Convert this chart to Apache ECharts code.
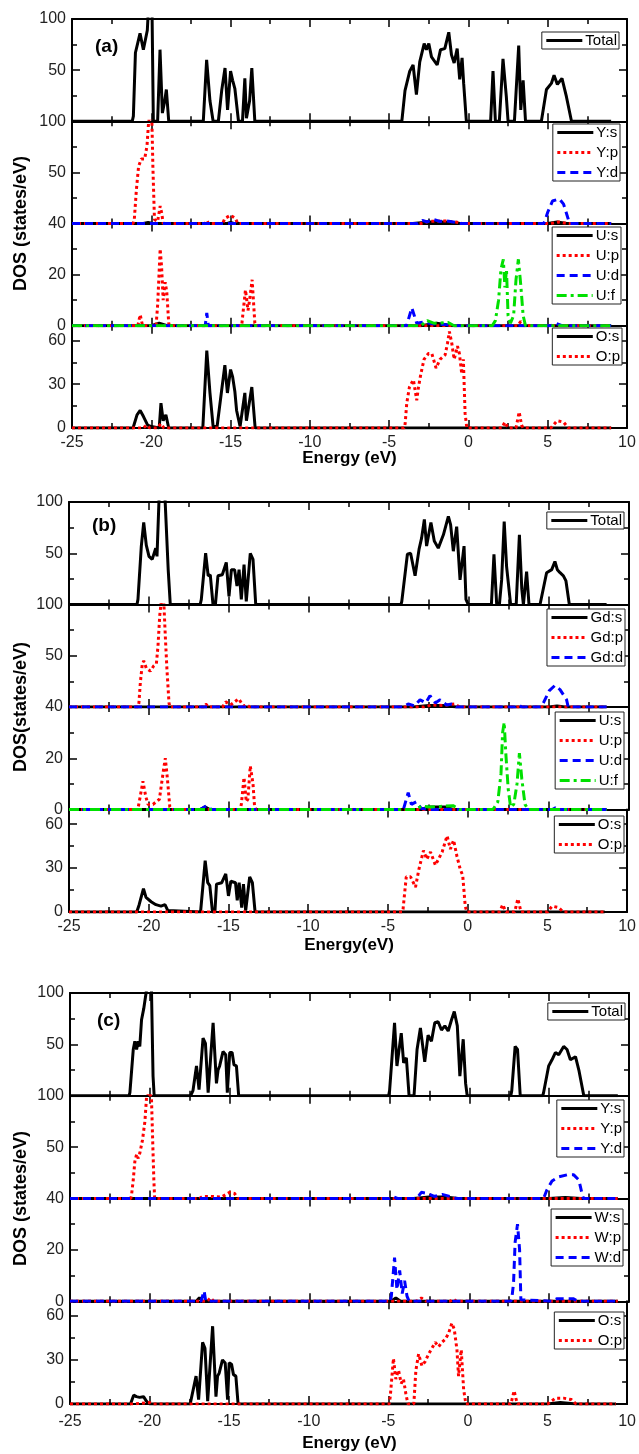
<!DOCTYPE html>
<html>
<head>
<meta charset="utf-8">
<script src="https://cdn.jsdelivr.net/npm/echarts@6/dist/echarts.min.js"></script>
<style>
  html, body { margin: 0; padding: 0; background: #fff; }
  #main { width: 639px; height: 1454px; }
</style>
</head>
<body>
<div id="main"></div>
<script>
// x range of every panel
const energyMin = -25, energyMax = 10;
const energyTicks = 5;

// ---------- panel (a) ----------
const aTotal = [[-21.2,0],[-21.13,5],[-21.0,67],[-20.71,86],[-20.5,70],[-20.25,89],[-20.2,104],[-19.95,104],[-19.87,0],[-19.6,0],[-19.45,70],[-19.3,8],[-19.15,20],[-19.05,31],[-18.9,0],
  [-16.72,0],[-16.51,60],[-16.3,20],[-16.1,0],[-15.77,0],[-15.56,30],[-15.35,52],[-15.19,11],[-15.0,49],[-14.87,40],[-14.73,32],[-14.5,0],[-14.25,0],[-14.1,42],[-14.0,3],[-13.8,20],[-13.66,52],[-13.47,0],
  [-4.2,0],[-4.0,30],[-3.7,49],[-3.49,55],[-3.28,26],[-3.07,58],[-2.79,76],[-2.65,70],[-2.5,76],[-2.33,63],[-1.97,55],[-1.76,70],[-1.49,71],[-1.24,87],[-1.07,65],[-0.9,57],[-0.71,71],[-0.55,41],[-0.4,62],[-0.3,37],[-0.13,0],
  [1.4,0],[1.55,49],[1.7,0],[1.95,0],[2.18,61],[2.39,24],[2.5,0],[2.9,0],[3.17,74],[3.3,11],[3.45,40],[3.6,0],
  [4.6,0],[4.92,31],[5.23,37],[5.4,45],[5.61,36],[5.9,42],[6.18,24],[6.5,0]];
const aYs = [[-20.5,0],[-20.2,1],[-19.9,0],[-15.2,0],[-15.0,1],[-14.8,0],[-3.5,0],[-2.5,1.5],[-1.5,1.5],[-0.5,0],[5.0,0],[5.6,1.5],[6.2,0]];
const aYp = [[-21.15,0],[-21.07,4],[-20.94,33],[-20.8,56],[-20.63,63],[-20.42,63],[-20.27,76],[-20.17,99],[-20.07,108],[-19.96,99],[-19.9,56],[-19.8,4],[-19.6,2],[-19.44,17],[-19.34,10],[-19.25,0],
  [-16.6,0],[-16.5,3],[-16.4,0],[-15.5,0],[-15.36,5],[-15.0,8],[-14.7,5],[-14.55,0],[-3.0,0],[-2.5,2],[-1.5,2.5],[-0.8,1.5],[-0.4,0],[5.2,0],[5.7,1.5],[6.2,0]];
const aYd = [[-3.2,0],[-2.9,3],[-2.6,1.5],[-2.2,4],[-1.8,2],[-1.37,2.5],[-0.8,1],[-0.5,0],[4.75,0],[4.83,3],[5.0,11],[5.3,22],[5.74,24],[6.0,19],[6.3,4],[6.4,0]];
const aUs = [[-20.0,0],[-19.5,1],[-19.0,0],[-3.0,0],[-2.0,1],[-1.0,0]];
const aUp = [[-20.85,0],[-20.7,4.3],[-20.55,0],[-19.7,0],[-19.6,8],[-19.44,30],[-19.35,23],[-19.25,10],[-19.12,17],[-19.02,13],[-18.9,1],[-18.85,0],
  [-14.3,0],[-14.2,6],[-14.06,14],[-13.9,6],[-13.8,10],[-13.64,18],[-13.47,1],[-13.4,0],[3.1,0],[3.3,1.7],[3.5,0]];
const aUd = [[-16.6,0],[-16.5,5],[-16.4,0],[-3.9,0],[-3.57,7],[-3.26,1],[-2.8,1.5],[-2.3,0.8],[-1.5,0.5],[-1.0,0],[5.2,0],[5.5,1],[5.9,0]];
const aUf = [[-3.0,0],[-2.6,2],[-2.2,1],[-1.8,1],[-1.3,1.3],[-0.9,0],[1.5,0],[1.7,2],[1.9,10],[2.05,22],[2.2,26],[2.3,15],[2.4,22],[2.5,4],[2.65,1],[2.85,4],[3.0,18],[3.15,26],[3.3,16],[3.45,4],[3.6,0]];
const aOs = [[-21.15,0],[-20.9,9],[-20.7,12],[-20.5,8],[-20.23,2],[-20.0,1],[-19.5,0],[-19.39,17],[-19.25,5],[-19.08,9],[-18.9,0],
  [-16.75,0],[-16.5,53],[-16.3,24],[-16.1,1],[-15.85,1],[-15.56,26],[-15.36,43],[-15.2,24],[-15.0,40],[-14.87,35],[-14.73,25],[-14.62,12],[-14.4,1],[-14.1,24],[-14.0,5],[-13.66,28],[-13.45,0]];
const aOp = [[-20.5,0],[-20.3,2],[-20.1,0],[-19.6,0],[-19.4,3],[-19.2,0],[-4.05,0],[-3.99,3],[-3.89,17],[-3.72,28],[-3.47,33],[-3.26,19],[-3.15,28],[-3.0,37],[-2.8,47],[-2.52,51],[-2.31,51],[-2.04,41],[-1.79,47],[-1.47,50],[-1.32,58],[-1.2,66],[-1.05,58],[-0.9,47],[-0.69,56],[-0.57,51],[-0.42,37],[-0.32,47],[-0.21,10],[-0.1,0],
  [2.1,0],[2.3,4],[2.5,0],[3.0,0],[3.2,11],[3.35,2],[3.45,0],[5.2,0],[5.6,5],[6.0,4],[6.3,0]];

// ---------- panel (b) ----------
const bTotal = [[-20.75,0],[-20.69,5],[-20.48,57],[-20.33,80],[-20.17,58],[-20.0,47],[-19.8,44],[-19.58,55],[-19.5,47],[-19.37,104],[-19.0,104],[-18.8,34],[-18.67,0],
  [-16.8,0],[-16.73,5],[-16.46,50],[-16.3,28],[-16.17,29],[-16.0,0],[-15.85,0],[-15.69,28],[-15.42,29],[-15.17,41],[-15.0,8],[-14.85,34],[-14.65,34],[-14.5,18],[-14.37,34],[-14.23,5],[-14.06,39],[-13.92,3],[-13.67,50],[-13.5,44],[-13.33,0],
  [-4.25,0],[-4.2,3],[-3.85,49],[-3.65,50],[-3.37,28],[-3.12,54],[-2.96,65],[-2.79,83],[-2.65,57],[-2.38,80],[-2.17,62],[-1.92,55],[-1.6,68],[-1.29,86],[-1.15,78],[-0.98,52],[-0.77,76],[-0.56,24],[-0.31,57],[-0.19,5],[-0.05,0],
  [1.4,0],[1.56,49],[1.73,0],[1.9,0],[2.04,24],[2.2,81],[2.35,37],[2.45,37],[2.6,0],[2.95,0],[3.15,68],[3.3,15],[3.4,0],[3.5,0],[3.6,32],[3.75,0],
  [4.44,0],[4.85,31],[5.17,34],[5.37,42],[5.52,34],[5.69,31],[5.9,28],[6.06,23],[6.27,0]];
const bGds = [[-3.5,0],[-2.5,1.5],[-1.5,1.5],[-0.8,0],[5.0,0],[5.5,1],[6.0,0]];
const bGdp = [[-20.7,0],[-20.63,4],[-20.54,24],[-20.42,42],[-20.33,45],[-20.17,38],[-19.92,35],[-19.71,40],[-19.54,42],[-19.44,59],[-19.33,89],[-19.23,104],[-19.08,104],[-18.98,69],[-18.88,37],[-18.75,4],[-18.7,0],
  [-16.6,0],[-16.45,3],[-16.3,0],[-15.4,0],[-15.2,5],[-14.9,2],[-14.4,8],[-14.1,1],[-13.9,2],[-13.7,0],[-2.8,0],[-2.3,2],[-1.6,1.5],[-0.9,3],[-0.6,0]];
const bGdd = [[-4.1,0],[-3.8,3],[-3.4,1],[-3.06,7],[-2.7,4],[-2.44,11],[-2.1,4],[-1.81,7],[-1.4,2],[-1.08,3],[-0.8,0],[2.9,0],[3.1,2],[3.3,0],[4.5,0],[4.65,4],[5.02,16],[5.37,21],[5.69,17],[6.1,7],[6.2,0]];
const bUs = [[-16.8,0],[-16.5,1],[-16.2,0],[-3.0,0],[-2.5,1],[-1.5,1],[-1.0,0]];
const bUp = [[-20.7,0],[-20.55,5],[-20.38,11],[-20.2,5],[-20.06,2],[-19.75,2],[-19.35,4],[-19.08,16],[-18.98,20],[-18.85,12],[-18.7,1],[-18.6,0],
  [-14.3,0],[-14.23,2],[-14.06,12.5],[-13.92,3],[-13.82,4],[-13.67,17],[-13.5,10],[-13.4,1],[-13.3,0]];
const bUd = [[-16.8,0],[-16.4,1.5],[-16.1,0],[-4.1,0],[-3.8,6.6],[-3.6,2],[-3.3,3],[-3.0,0.5],[-2.5,0],[5.2,0],[5.4,0.6],[5.6,0]];
const bUf = [[-3.3,0],[-3.0,1.3],[-2.4,1],[-1.8,1.2],[-1.0,1.5],[-0.6,0],[1.5,0],[1.8,3],[2.0,14],[2.1,30],[2.2,34],[2.3,22],[2.45,8],[2.6,1],[2.8,2],[3.0,10],[3.15,22],[3.3,12],[3.5,2],[3.7,0]];
const bOs = [[-20.75,0],[-20.6,5],[-20.33,16],[-20.17,10],[-19.85,7],[-19.55,5],[-19.23,4],[-18.98,5],[-18.8,1],[-18.7,0],
  [-16.75,0],[-16.46,35],[-16.3,20],[-16.17,18],[-16.0,0],[-15.85,0],[-15.75,19],[-15.42,20],[-15.17,26],[-15.0,11],[-14.85,21],[-14.56,20],[-14.45,8],[-14.33,20],[-14.17,3],[-14.06,19],[-13.92,1],[-13.67,24],[-13.5,20],[-13.33,0]];
const bOp = [[-4.1,0],[-4.05,2],[-3.85,24],[-3.58,24],[-3.27,17],[-3.06,29],[-2.77,42],[-2.56,36],[-2.33,41],[-2.02,32],[-1.6,41],[-1.29,52],[-1.08,43],[-0.88,49],[-0.67,38],[-0.46,29],[-0.31,25],[-0.15,4],[-0.05,0],
  [2.0,0],[2.2,5],[2.4,0],[2.95,0],[3.15,9],[3.35,0],[5.0,0],[5.3,4],[5.7,3],[6.0,0]];

// ---------- panel (c) ----------
const cTotal = [[-21.3,0],[-21.25,3],[-21.04,45],[-20.94,53],[-20.83,45],[-20.73,53],[-20.63,48],[-20.52,74],[-20.38,85],[-20.2,104],[-19.9,104],[-19.8,19],[-19.73,0],
  [-17.45,0],[-17.3,5],[-17.08,29],[-16.92,6],[-16.67,56],[-16.52,51],[-16.35,3],[-16.04,71],[-15.83,12],[-15.73,25],[-15.63,29],[-15.42,43],[-15.25,40],[-15.15,3],[-15.0,42],[-14.85,42],[-14.73,30],[-14.58,29],[-14.44,0],
  [-5.05,0],[-4.99,5],[-4.68,71],[-4.53,29],[-4.26,61],[-4.11,32],[-3.94,37],[-3.77,0],[-3.46,0],[-3.27,45],[-3.06,66],[-2.79,33],[-2.58,59],[-2.37,53],[-2.16,71],[-1.95,72],[-1.74,64],[-1.53,68],[-1.32,63],[-1.11,74],[-0.94,82],[-0.75,68],[-0.59,19],[-0.38,55],[-0.23,12],[-0.13,0],
  [2.6,0],[2.66,5],[2.87,48],[3.02,45],[3.19,0],
  [4.6,0],[4.65,3],[4.97,29],[5.18,35],[5.39,42],[5.6,40],[5.91,48],[6.12,45],[6.33,35],[6.65,38],[6.86,25],[7.17,0]];
const cYs = [[-3.5,0],[-2.5,1.5],[-1.5,1.5],[-0.7,0],[5.0,0],[6.0,1],[7.0,0]];
const cYp = [[-21.2,0],[-21.15,3],[-21.04,18],[-20.94,36],[-20.83,43],[-20.73,39],[-20.63,44],[-20.46,57],[-20.31,75],[-20.21,98],[-20.05,104],[-19.9,98],[-19.83,60],[-19.75,18],[-19.7,0],
  [-16.9,0],[-16.7,2],[-16.2,2],[-15.5,1.5],[-15.0,6],[-14.7,5],[-14.5,0]];
const cYd = [[-5.0,0],[-4.8,2],[-4.5,0],[-3.3,0],[-3.0,6],[-2.6,5],[-2.2,2],[-1.7,4],[-1.2,2],[-0.8,0],[4.65,0],[4.7,2],[4.85,8],[5.18,17],[5.6,21],[6.12,23],[6.54,23],[6.86,18],[7.07,4],[7.15,0]];
const cWs = [[-17.1,0],[-16.9,1.3],[-16.7,0],[-4.9,0],[-4.6,1.3],[-4.3,0]];
const cWp = [[-16.4,0],[-16.2,1.3],[-16.0,0],[-3.3,0],[-3.0,1.3],[-2.7,0],[-1.2,0],[-1.0,0.8],[-0.8,0]];
const cWd = [[-16.8,0],[-16.6,4],[-16.5,0],[-4.95,0],[-4.88,2],[-4.68,17],[-4.53,4.5],[-4.36,12],[-4.2,3],[-4.05,8],[-3.9,2],[-3.77,0],
  [2.6,0],[2.66,1],[2.77,7],[2.87,23],[3.02,30],[3.15,20],[3.23,0.6],[3.3,0],[5.2,0],[5.5,1],[6.5,1],[6.8,0]];
const cOs = [[-21.2,0],[-21.0,6],[-20.83,5],[-20.63,4.5],[-20.38,5],[-20.2,2],[-20.0,0],
  [-17.45,0],[-17.08,19],[-16.92,3],[-16.67,42],[-16.52,38],[-16.35,2],[-16.04,53],[-15.83,5],[-15.73,19],[-15.63,21],[-15.42,30],[-15.25,28],[-15.1,3],[-15.0,28],[-14.85,27],[-14.73,20],[-14.58,19],[-14.44,0],[5.0,0],[5.8,1],[6.8,0]];
const cOp = [[-21.0,0],[-20.0,1],[-19.8,0],[-4.95,0],[-4.88,5],[-4.68,31],[-4.53,17],[-4.36,23],[-4.19,14],[-4.05,17],[-3.9,7],[-3.77,0],[-3.4,0],[-3.27,23],[-3.1,34],[-2.89,26],[-2.68,29],[-2.47,34],[-2.26,38],[-2.05,42],[-1.84,39],[-1.64,42],[-1.43,44],[-1.22,48],[-1.01,55],[-0.86,51],[-0.69,37],[-0.59,19],[-0.42,37],[-0.27,10],[-0.13,0],
  [2.7,0],[2.9,9],[3.1,0],[5.0,0],[5.5,4],[6.0,4],[6.5,3],[6.8,0]];

// y scale of the 4 stacked rows
const rowMax = [100, 100, 40, 70];
const rowInterval = [50, 50, 20, 30];

const FONT = 'Liberation Sans, Arial, sans-serif';

const panels = [
  { label: '(a)', left: 72, width: 555, top: 19, rowH: 102.25, end: 9.0, xTitle: 'Energy (eV)', yTitle: 'DOS (states/eV)',
    labelMargin: 7, titleY: 458, labelPos: [95, 37],
    rows: [
      { names: ['Total'], data: [aTotal], legend: [32, 20] },
      { names: ['Y:s', 'Y:p', 'Y:d'], data: [aYs, aYp, aYd], legend: [124, 19] },
      { names: ['U:s', 'U:p', 'U:d', 'U:f'], data: [aUs, aUp, aUd, aUf], legend: [227, 18] },
      { names: ['O:s', 'O:p'], data: [aOs, aOp], legend: [328, 17] }
    ] },
  { label: '(b)', left: 69, width: 560, top: 502, rowH: 102.5, end: 8.6, xTitle: 'Energy(eV)', yTitle: 'DOS(states/eV)',
    labelMargin: 7, titleY: 945, labelPos: [92, 516],
    rows: [
      { names: ['Total'], data: [bTotal], legend: [512, 15] },
      { names: ['Gd:s', 'Gd:p', 'Gd:d'], data: [bGds, bGdp, bGdd], legend: [609, 14] },
      { names: ['U:s', 'U:p', 'U:d', 'U:f'], data: [bUs, bUp, bUd, bUf], legend: [712, 15] },
      { names: ['O:s', 'O:p'], data: [bOs, bOp], legend: [816, 15] }
    ] },
  { label: '(c)', left: 70, width: 559, top: 993, rowH: 102.75, end: 9.3, xTitle: 'Energy (eV)', yTitle: 'DOS (states/eV)',
    labelMargin: 10, titleY: 1443, labelPos: [97, 1011],
    rows: [
      { names: ['Total'], data: [cTotal], legend: [1003, 14] },
      { names: ['Y:s', 'Y:p', 'Y:d'], data: [cYs, cYp, cYd], legend: [1100, 15] },
      { names: ['W:s', 'W:p', 'W:d'], data: [cWs, cWp, cWd], legend: [1209, 16] },
      { names: ['O:s', 'O:p'], data: [cOs, cOp], legend: [1312, 15] }
    ] }
];

function lineLook(name) {
  if (name === 'Total' || name.endsWith(':s')) return { color: '#000', type: 'solid' };
  if (name.endsWith(':p')) return { color: '#ff0000', type: [3, 3] };
  if (name.endsWith(':d')) return { color: '#0000ff', type: [8, 5] };
  return { color: '#00e000', type: [10, 4, 3, 4] };
}

const grid = [], xAxis = [], yAxis = [], series = [], legend = [], graphic = [];
const tickX = { show: true, inside: true, length: 8, lineStyle: { color: '#000', width: 1.5 } };
const minorX = { show: true, splitNumber: 2, length: 5, lineStyle: { color: '#000', width: 1.5 } };
const lineAx = { show: true, onZero: false, lineStyle: { color: '#000', width: 2 } };

panels.forEach(p => {
  p.rows.forEach((row, r) => {
    const g = grid.length;
    const bottomRow = r === 3;
    grid.push({ left: p.left, width: p.width, top: p.top + r * p.rowH, height: p.rowH });
    const xBase = { type: 'value', gridIndex: g, min: energyMin, max: energyMax, interval: energyTicks,
      axisLine: lineAx, axisTick: tickX, minorTick: minorX, splitLine: { show: false } };
    xAxis.push(Object.assign({}, xBase, { position: 'bottom',
      axisLabel: { show: bottomRow, color: '#222', fontSize: 16, fontFamily: FONT, margin: p.labelMargin } }));
    xAxis.push(Object.assign({}, xBase, { position: 'top', axisLabel: { show: false } }));
    const yBase = { type: 'value', gridIndex: g, min: 0, max: rowMax[r], interval: rowInterval[r],
      axisLine: lineAx, axisTick: tickX, minorTick: minorX, splitLine: { show: false } };
    yAxis.push(Object.assign({}, yBase, { position: 'left',
      axisLabel: { color: '#222', fontSize: 16, fontFamily: FONT, margin: 6,
        formatter: v => {
          if (r < 2 && v === 0) return '';
          if (r === 3 && (v % 30 !== 0 || v > 60)) return '';
          return String(v);
        } } }));
    yAxis.push(Object.assign({}, yBase, { position: 'right', axisLabel: { show: false } }));

    row.names.forEach((name, k) => {
      const look = lineLook(name);
      series.push({
        type: 'line', name, xAxisIndex: 2 * g, yAxisIndex: 2 * g,
        data: [[energyMin, 0], ...row.data[k], [p.end, 0]],
        symbol: 'none', showSymbol: false, silent: true, clip: true,
        lineStyle: { color: look.color, width: 3, type: look.type },
        itemStyle: { color: look.color }
      });
    });

    legend.push({
      data: row.names, orient: 'vertical', top: row.legend[0], right: row.legend[1],
      itemWidth: 36, itemHeight: 14, itemGap: 5, padding: [1, 2, 1, 3],
      borderColor: '#222', borderWidth: 1, backgroundColor: '#fff', selectedMode: false,
      itemStyle: { opacity: 0, borderWidth: 0 },
      lineStyle: { width: 3 },
      textStyle: { color: '#000', fontSize: 15, fontFamily: FONT, padding: [0, 0, 0, -2] }
    });
  });

  const total = 4 * p.rowH;
  graphic.push({ type: 'text', left: p.labelPos[0], top: p.labelPos[1],
    style: { text: p.label, font: 'bold 19px ' + FONT, fill: '#000' } });
  graphic.push({ type: 'text', x: p.left + p.width / 2, y: p.titleY,
    style: { text: p.xTitle, font: 'bold 17px ' + FONT, fill: '#000', align: 'center', verticalAlign: 'middle' } });
  graphic.push({ type: 'text', x: 21, y: p.top + total / 2, rotation: Math.PI / 2,
    style: { text: p.yTitle, font: 'bold 18px ' + FONT, fill: '#000', align: 'center', verticalAlign: 'middle' } });
});

const chart = echarts.init(document.getElementById('main'), null, { renderer: 'canvas' });
chart.setOption({
  animation: false,
  backgroundColor: '#fff',
  grid, xAxis, yAxis, series, legend, graphic
});
</script>
</body>
</html>
